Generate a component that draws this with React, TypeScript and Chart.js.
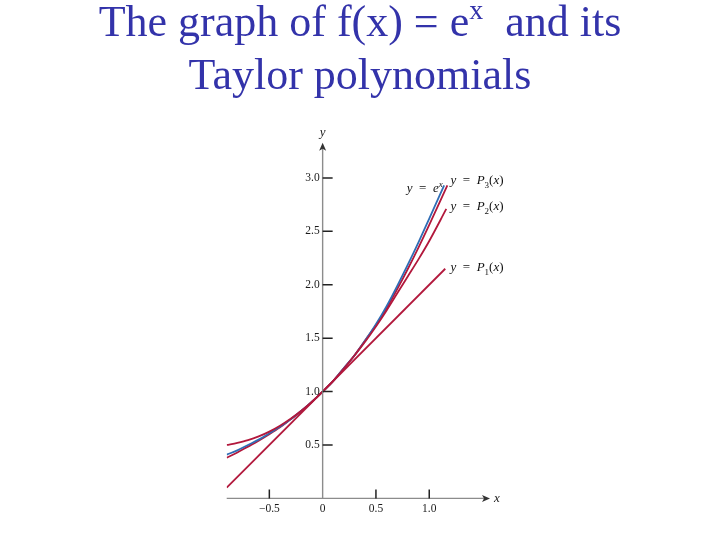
import React, { useEffect, useRef } from "react";
import { Chart, registerables } from "chart.js";

Chart.register(...registerables);

const xs = [-0.9, -0.8, -0.7, -0.6, -0.5, -0.4, -0.3, -0.2, -0.1, 0, 0.1, 0.2, 0.3, 0.4, 0.5, 0.6, 0.7, 0.8, 0.9, 1.0];
const expVals = [0.41, 0.45, 0.5, 0.55, 0.61, 0.67, 0.74, 0.82, 0.905, 1.0, 1.1, 1.22, 1.34, 1.48, 1.63, 1.8, 1.99, 2.19, 2.4, 2.62];
const expEnd = { x: 1.14, y: 2.93 };
const p3Vals = [0.38, 0.43, 0.485, 0.54, 0.6, 0.665, 0.74, 0.815, 0.905, 1.0, 1.1, 1.22, 1.34, 1.48, 1.62, 1.78, 1.96, 2.15, 2.35, 2.56];
const p3End = { x: 1.17, y: 2.93 };
const p2Vals = [0.5, 0.52, 0.545, 0.58, 0.625, 0.68, 0.745, 0.82, 0.905, 1.0, 1.1, 1.215, 1.34, 1.47, 1.61, 1.76, 1.92, 2.08, 2.24, 2.41];
const p2End = { x: 1.16, y: 2.71 };
const p1Points = [
  { x: -0.9, y: 0.1 },
  { x: 1.15, y: 2.15 },
];

const xTickValues = [-0.5, 0, 0.5, 1.0];
const xTickLabels = ["\u22120.5", "0", "0.5", "1.0"];
const yTickValues = [0.5, 1.0, 1.5, 2.0, 2.5, 3.0];
const yTickLabels = ["0.5", "1.0", "1.5", "2.0", "2.5", "3.0"];

const X_MIN = -0.9;
const X_MAX = 1.57;
const Y_MIN = 0;
const Y_MAX = 3.33;

const RED = "#b2183c";
const BLUE = "#2f6db5";
const SERIF = '"Liberation Serif", "Times New Roman", serif';

function pts(vals: number[], end: { x: number; y: number }) {
  const arr = xs.map((x, i) => ({ x, y: vals[i] }));
  arr.push(end);
  return arr;
}

type Seg = { t: string; italic?: boolean; sub?: boolean; sup?: boolean };

function drawRich(ctx: CanvasRenderingContext2D, segs: Seg[], x: number, y: number, align: "left" | "right", size: number) {
  const fontFor = (s: Seg) => `${s.italic ? "italic " : ""}${s.sub || s.sup ? Math.round(size * 0.72) : size}px ${SERIF}`;
  let total = 0;
  for (const s of segs) {
    ctx.font = fontFor(s);
    total += ctx.measureText(s.t).width;
  }
  let cx = align === "right" ? x - total : x;
  ctx.textAlign = "left";
  ctx.textBaseline = "alphabetic";
  for (const s of segs) {
    ctx.font = fontFor(s);
    const dy = s.sub ? size * 0.28 : s.sup ? -size * 0.4 : 0;
    ctx.fillText(s.t, cx, y + dy);
    cx += ctx.measureText(s.t).width;
  }
}

const EQ = "\u2002=\u2002";

const axesPlugin = {
  id: "customAxes",
  afterDatasetsDraw(chart: any) {
    const ctx: CanvasRenderingContext2D = chart.ctx;
    const xs_ = chart.scales.x;
    const ys_ = chart.scales.y;
    const x0 = xs_.getPixelForValue(0);
    const y0 = ys_.getPixelForValue(0);
    const left = xs_.getPixelForValue(X_MIN);
    const right = xs_.getPixelForValue(X_MAX);
    const top = ys_.getPixelForValue(Y_MAX);
    ctx.save();
    // axis lines
    ctx.strokeStyle = "#8c8c8c";
    ctx.lineWidth = 1.4;
    ctx.beginPath();
    ctx.moveTo(left, y0);
    ctx.lineTo(right - 4, y0);
    ctx.moveTo(x0, y0);
    ctx.lineTo(x0, top + 4);
    ctx.stroke();
    // arrows
    ctx.fillStyle = "#333";
    ctx.beginPath();
    ctx.moveTo(right, y0);
    ctx.lineTo(right - 8, y0 - 3.5);
    ctx.lineTo(right - 6, y0);
    ctx.lineTo(right - 8, y0 + 3.5);
    ctx.closePath();
    ctx.fill();
    ctx.beginPath();
    ctx.moveTo(x0, top);
    ctx.lineTo(x0 - 3.5, top + 8);
    ctx.lineTo(x0, top + 6);
    ctx.lineTo(x0 + 3.5, top + 8);
    ctx.closePath();
    ctx.fill();
    // ticks
    ctx.strokeStyle = "#222";
    ctx.lineWidth = 1.5;
    ctx.beginPath();
    for (const v of xTickValues) {
      if (v === 0) continue;
      const px = xs_.getPixelForValue(v);
      ctx.moveTo(px, y0);
      ctx.lineTo(px, y0 - 9);
    }
    for (const v of yTickValues) {
      const py = ys_.getPixelForValue(v);
      ctx.moveTo(x0, py);
      ctx.lineTo(x0 + 10, py);
    }
    ctx.stroke();
    // tick labels
    ctx.fillStyle = "#1a1a1a";
    ctx.font = `11.5px ${SERIF}`;
    ctx.textBaseline = "middle";
    ctx.textAlign = "center";
    xTickValues.forEach((v, i) => {
      ctx.fillText(xTickLabels[i], xs_.getPixelForValue(v), y0 + 11);
    });
    ctx.textAlign = "right";
    yTickValues.forEach((v, i) => {
      ctx.fillText(yTickLabels[i], x0 - 3, ys_.getPixelForValue(v));
    });
    // axis titles
    ctx.font = `italic 13px ${SERIF}`;
    ctx.textAlign = "left";
    ctx.fillText("x", right + 4, y0);
    ctx.textAlign = "center";
    ctx.fillText("y", x0, top - 10);
    // curve labels
    ctx.fillStyle = "#111";
    const sz = 13;
    drawRich(ctx, [{ t: "y", italic: true }, { t: EQ }, { t: "e", italic: true }, { t: "x", italic: true, sup: true }], xs_.getPixelForValue(1.145) - 2, ys_.getPixelForValue(2.87), "right", sz);
    drawRich(ctx, [{ t: "y", italic: true }, { t: EQ }, { t: "P", italic: true }, { t: "3", sub: true }, { t: "(" }, { t: "x", italic: true }, { t: ")" }], xs_.getPixelForValue(1.2), ys_.getPixelForValue(2.94), "left", sz);
    drawRich(ctx, [{ t: "y", italic: true }, { t: EQ }, { t: "P", italic: true }, { t: "2", sub: true }, { t: "(" }, { t: "x", italic: true }, { t: ")" }], xs_.getPixelForValue(1.2), ys_.getPixelForValue(2.7), "left", sz);
    drawRich(ctx, [{ t: "y", italic: true }, { t: EQ }, { t: "P", italic: true }, { t: "1", sub: true }, { t: "(" }, { t: "x", italic: true }, { t: ")" }], xs_.getPixelForValue(1.2), ys_.getPixelForValue(2.13), "left", sz);
    ctx.restore();
  },
};

export default function App() {
  const ref = useRef<HTMLCanvasElement | null>(null);
  useEffect(() => {
    if (!ref.current) return;
    const lineDs = (label: string, data: any[], color: string) => ({
      label,
      data,
      borderColor: color,
      backgroundColor: color,
      borderWidth: 1.8,
      pointRadius: 0,
      tension: 0.4,
      cubicInterpolationMode: "monotone" as const,
      fill: false,
    });
    const chart = new Chart(ref.current, {
      type: "line",
      data: {
        datasets: [
          lineDs("P1", p1Points, RED),
          lineDs("P2", pts(p2Vals, p2End), RED),
          lineDs("e^x", pts(expVals, expEnd), BLUE),
          lineDs("P3", pts(p3Vals, p3End), RED),
        ],
      },
      options: {
        animation: false,
        responsive: false,
        maintainAspectRatio: false,
        parsing: false as any,
        layout: { padding: { left: 226.7, right: 230, top: 142.7, bottom: 41.6 } },
        plugins: { legend: { display: false }, tooltip: { enabled: false }, title: { display: false } },
        scales: {
          x: { type: "linear", min: X_MIN, max: X_MAX, display: false },
          y: { type: "linear", min: Y_MIN, max: Y_MAX, display: false },
        },
      },
      plugins: [axesPlugin],
    });
    return () => chart.destroy();
  }, []);
  return (
    <div style={{ position: "absolute", left: 0, top: 0, width: 720, height: 540, background: "#fff" }}>
      <canvas ref={ref} width={720} height={540} style={{ position: "absolute", left: 0, top: 0 }} />
      <div
        style={{
          position: "absolute",
          left: 0,
          top: -2,
          width: 720,
          textAlign: "center",
          fontFamily: SERIF,
          fontSize: 44,
          lineHeight: "48px",
          color: "#3333aa",
        }}
      >
        The graph of f(x) = e<sup style={{ fontSize: 28, verticalAlign: "baseline", position: "relative", top: -17 }}>x</sup>&nbsp; and its
        <br />
        Taylor polynomials
      </div>
    </div>
  );
}
